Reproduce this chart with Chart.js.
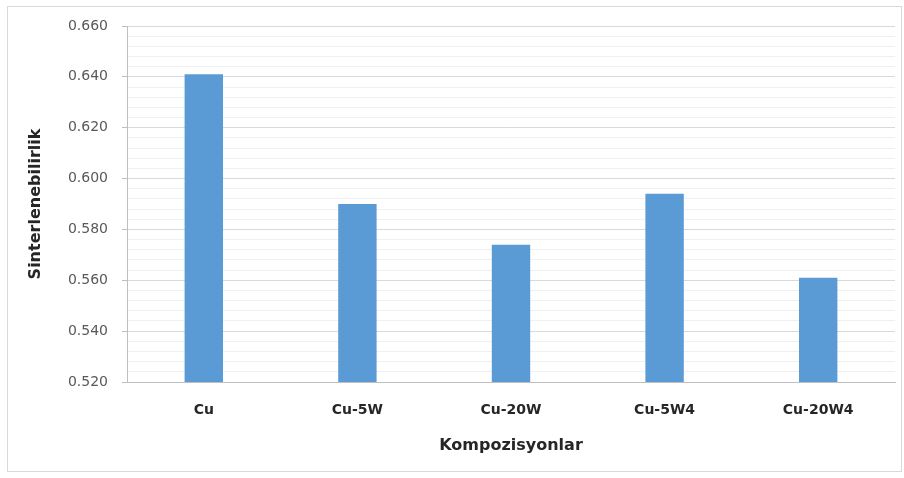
<!DOCTYPE html>
<html>
<head>
<meta charset="utf-8">
<script src="https://cdn.jsdelivr.net/npm/chart.js@4"></script>
<style>
    html, body { margin: 0; padding: 0; background: #ffffff; }
    #wrap { position: relative; width: 904px; height: 478px; }
    #frame { position: absolute; left: 7px; top: 6px; width: 895px; height: 466px; border: 1px solid #d9d9d9; box-sizing: border-box; }
    canvas { position: absolute; left: 0; top: 0; }
</style>
</head>
<body>
<div id="wrap">
    <div id="frame"></div>
    <canvas id="chart" width="904" height="478"></canvas>
</div>
<script>
const categories = ['Cu', 'Cu-5W', 'Cu-20W', 'Cu-5W4', 'Cu-20W4'];
const sinterValues = [0.641, 0.590, 0.574, 0.594, 0.561];
const yMin = 0.52;
const yMax = 0.66;
const majorStep = 0.02;
const minorStep = 0.004;

function isMajor(v) {
    return Math.abs(Math.round(v / majorStep) * majorStep - v) < 1e-9;
}

document.addEventListener("DOMContentLoaded", function () {
    const ctx = document.getElementById('chart').getContext('2d');

    new Chart(ctx, {
        type: 'bar',
        data: {
            labels: categories,
            datasets: [{
                label: 'Sinterlenebilirlik',
                data: sinterValues,
                backgroundColor: '#5b9bd5',
                barPercentage: 0.25,
                categoryPercentage: 1
            }]
        },
        options: {
            responsive: false,
            animation: false,
            layout: { padding: { top: 26, right: 9, left: 0, bottom: 0 } },
            plugins: {
                legend: { display: false },
                tooltip: { enabled: false }
            },
            scales: {
                x: {
                    grid: { display: false, drawTicks: false },
                    border: { display: true, color: '#bfbfbf', width: 1 },
                    ticks: {
                        padding: 20,
                        color: '#262626',
                        font: { family: 'DejaVu Sans', size: 14, weight: 'bold' }
                    },
                    title: {
                        display: true,
                        text: 'Kompozisyonlar',
                        color: '#262626',
                        font: { family: 'DejaVu Sans', size: 16, weight: 'bold' },
                        padding: { top: 0, bottom: 23 }
                    },
                    afterFit: function (scale) { scale.height = 96; }
                },
                y: {
                    min: yMin,
                    max: yMax,
                    border: { display: true, color: '#bfbfbf', width: 1 },
                    grid: {
                        color: function (c) { return isMajor(c.tick.value) ? '#d9d9d9' : '#f0f0f0'; },
                        tickColor: function (c) { return isMajor(c.tick.value) ? '#bfbfbf' : 'rgba(0,0,0,0)'; },
                        tickLength: 5
                    },
                    ticks: {
                        stepSize: minorStep,
                        maxTicksLimit: 100,
                        autoSkip: false,
                        padding: 14,
                        color: '#595959',
                        font: { family: 'DejaVu Sans', size: 14 },
                        callback: function (v) { return isMajor(v) ? v.toFixed(3) : ''; }
                    },
                    title: {
                        display: true,
                        text: 'Sinterlenebilirlik',
                        color: '#262626',
                        font: { family: 'DejaVu Sans', size: 16, weight: 'bold' },
                        padding: { top: 26, bottom: 0 }
                    },
                    afterFit: function (scale) { scale.width = 127; }
                }
            }
        }
    });
});
</script>
</body>
</html>
